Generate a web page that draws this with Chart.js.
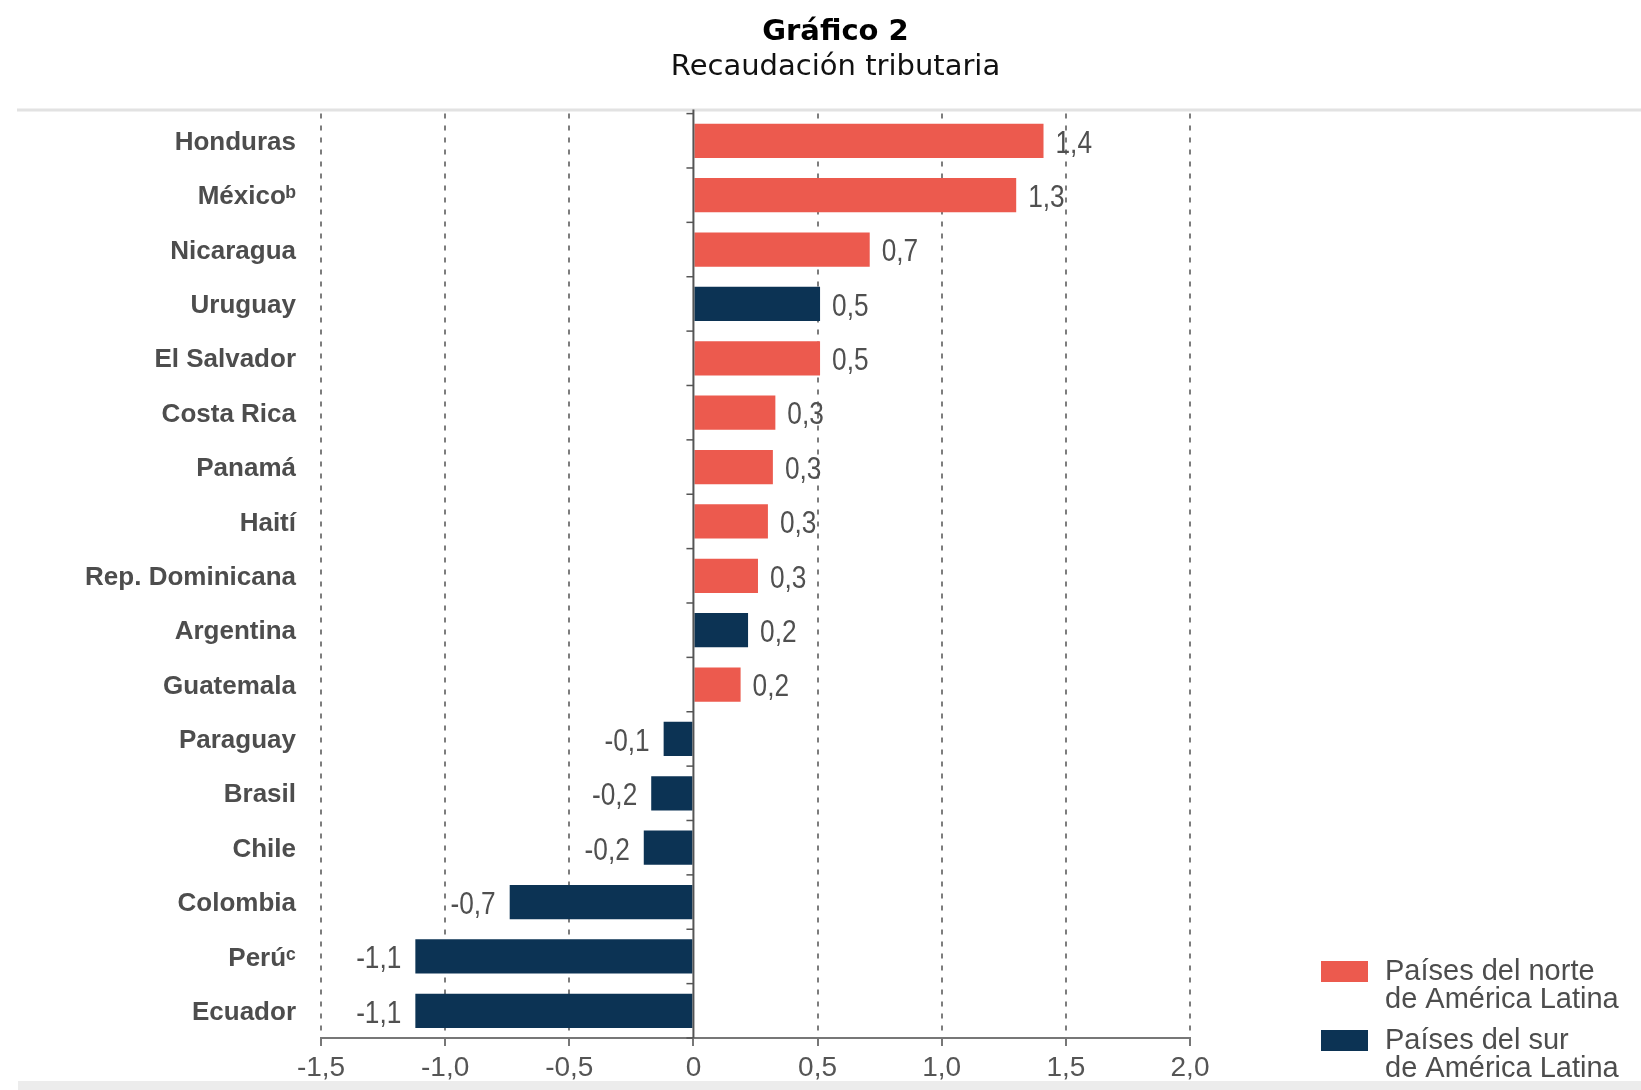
<!DOCTYPE html>
<html><head><meta charset="utf-8">
<script src="https://cdn.jsdelivr.net/npm/chart.js@4.4.1/dist/chart.umd.min.js"></script>
<style>html,body{margin:0;padding:0;background:#fff;}#wrap{width:1641px;height:1090px;}</style>
</head><body><div id="wrap"><canvas id="c" width="1641" height="1090"></canvas></div>
<script>
const categories = ['Honduras','Méxicoᵇ','Nicaragua','Uruguay','El Salvador','Costa Rica','Panamá','Haití','Rep. Dominicana','Argentina','Guatemala','Paraguay','Brasil','Chile','Colombia','Perúᶜ','Ecuador'];
const northValues = [1.41,1.30,0.71,null,0.51,0.33,0.32,0.30,0.26,null,0.19,null,null,null,null,null,null];
const southValues = [null,null,null,0.51,null,null,null,null,null,0.22,null,-0.12,-0.17,-0.20,-0.74,-1.12,-1.12];
const xTicks = [-1.5,-1.0,-0.5,0,0.5,1.0,1.5,2.0];
const seriesNames = ['Países del norte\nde América Latina','Países del sur\nde América Latina'];
const seriesColors = ['#ec5a4e','#0c3354'];

const fmt = v => (Math.round(v*10)/10).toFixed(1).replace('.', ',');
const fmtTick = v => v === 0 ? '0' : v.toFixed(1).replace('.', ',');

const decor = {
  id: 'decor',
  beforeDraw(chart) {
    const ctx = chart.ctx;
    ctx.save();
    ctx.strokeStyle = '#e2e2e2'; ctx.lineWidth = 3;
    ctx.beginPath(); ctx.moveTo(17, 110); ctx.lineTo(chart.width, 110); ctx.stroke();
    ctx.fillStyle = '#ececec';
    ctx.fillRect(18, 1081, chart.width - 18, 9);
    ctx.restore();
  },
  afterDatasetsDraw(chart) {
    const ctx = chart.ctx, xs = chart.scales.x, ys = chart.scales.y, ca = chart.chartArea;
    const x0 = xs.getPixelForValue(0);
    ctx.save();
    ctx.strokeStyle = '#555'; ctx.lineWidth = 2;
    ctx.beginPath(); ctx.moveTo(x0, ca.top - 4); ctx.lineTo(x0, ca.bottom); ctx.stroke();
    const band = ys.getPixelForValue(1) - ys.getPixelForValue(0);
    ctx.lineWidth = 1.5;
    for (let k = 0; k <= categories.length; k++) {
      const y = ys.getPixelForValue(0) - band/2 + k*band;
      ctx.beginPath(); ctx.moveTo(x0 - 7, y); ctx.lineTo(x0, y); ctx.stroke();
    }
    // value labels (condensed)
    ctx.font = '32px "Liberation Sans", sans-serif';
    ctx.fillStyle = '#505050';
    ctx.textBaseline = 'middle';
    chart.data.datasets.forEach((ds, i) => {
      chart.getDatasetMeta(i).data.forEach((bar, j) => {
        const v = ds.data[j];
        if (v === null || v === undefined) return;
        ctx.save();
        if (v >= 0) { ctx.translate(bar.x + 12, bar.y + 3); ctx.textAlign = 'left'; }
        else { ctx.translate(bar.x - 14, bar.y + 3); ctx.textAlign = 'right'; }
        ctx.scale(0.82, 1);
        ctx.fillText(fmt(v), 0, 0);
        ctx.restore();
      });
    });
    // legend
    const lx = ca.right + 131;
    const tops = [ca.bottom - 77, ca.bottom - 8];
    ctx.font = '29px "Liberation Sans", sans-serif';
    ctx.textAlign = 'left';
    chart.data.datasets.forEach((ds, i) => {
      const t = tops[i];
      ctx.fillStyle = ds.backgroundColor;
      ctx.fillRect(lx, t, 47, 21);
      ctx.fillStyle = '#4d4d4d';
      ds.label.split('\n').forEach((line, li) => {
        ctx.fillText(line, lx + 64, t + 11 + li*28);
      });
    });
    ctx.restore();
  }
};

new Chart(document.getElementById('c'), {
  type: 'bar',
  data: {
    labels: categories,
    datasets: [
      {label: seriesNames[0], data: northValues, backgroundColor: seriesColors[0]},
      {label: seriesNames[1], data: southValues, backgroundColor: seriesColors[1]}
    ]
  },
  options: {
    responsive: false, animation: false, indexAxis: 'y',
    layout: {padding: {left: 30, right: 0, top: 0, bottom: 0}},
    datasets: {bar: {grouped: false, categoryPercentage: 1, barPercentage: 0.63}},
    plugins: {
      legend: {display: false},
      tooltip: {enabled: false},
      title: {display: true, text: 'Gráfico 2', color: '#000', font: {family: 'DejaVu Sans', size: 29, weight: 'bold'}, padding: {top: 15, bottom: 0}},
      subtitle: {display: true, text: 'Recaudación tributaria', color: '#111', font: {family: 'DejaVu Sans', size: 29, weight: 'normal'}, padding: {top: 0, bottom: 29}}
    },
    scales: {
      x: {
        type: 'linear', min: -1.5, max: 2,
        afterBuildTicks: s => { s.ticks = xTicks.map(v => ({value: v})); },
        afterFit: s => { s.height = 52; },
        grid: {
          color: c => (c.tick && c.tick.value === 0) ? 'rgba(0,0,0,0)' : '#7d7d7d',
          lineWidth: 2, drawTicks: true, tickLength: 8, tickColor: '#777', tickWidth: 2, tickBorderDash: []
        },
        border: {display: true, color: '#777', width: 2, dash: [5, 7]},
        ticks: {callback: v => fmtTick(v), color: '#555', padding: 5, maxRotation: 0, font: {family: '"Liberation Sans"', size: 28}}
      },
      y: {
        grid: {display: false}, border: {display: false},
        ticks: {color: '#4d4d4d', padding: 17, labelOffset: 2, font: {family: '"Liberation Sans"', size: 26, weight: 'bold'}},
        afterFit: s => { s.width = 291; }
      },
      yR: {
        type: 'category', position: 'right', display: true,
        grid: {display: false}, border: {display: false}, ticks: {display: false},
        afterFit: s => { s.width = 451; }
      }
    }
  },
  plugins: [decor]
});
</script></body></html>
